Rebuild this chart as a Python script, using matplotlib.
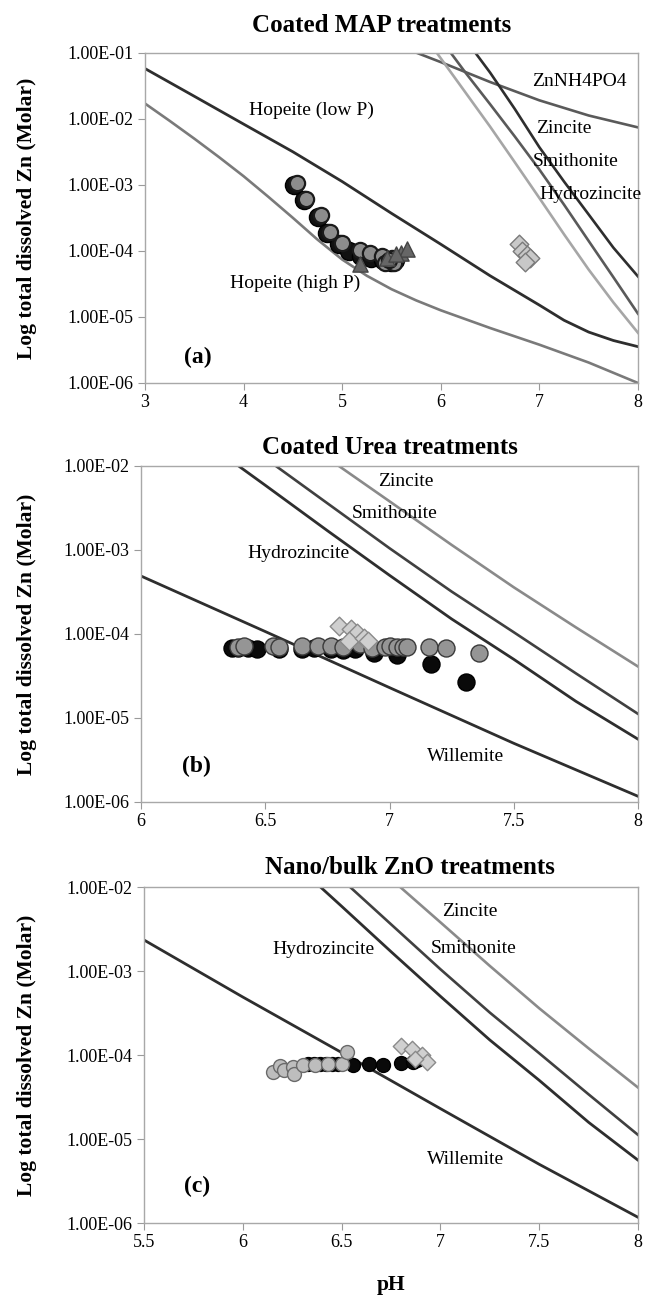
import matplotlib
matplotlib.use('Agg')
import matplotlib.pyplot as plt

plt.rcParams['font.family'] = ['Liberation Serif', 'DejaVu Serif']

# ---------------- Panel (a): Coated MAP treatments ----------------
a_hopeite_low_ph = [3.0, 3.5, 4.0, 4.5, 5.0, 5.5, 6.0, 6.5, 7.0, 7.25, 7.5, 7.75, 8.0]
a_hopeite_low_zn = [5.75e-2, 2.19e-2, 8.3e-3, 3.16e-3, 1.12e-3, 3.7e-4, 1.26e-4, 4.2e-5, 1.51e-5, 8.9e-6, 5.9e-6, 4.4e-6, 3.55e-6]
a_hopeite_high_ph = [3.0, 3.25, 3.5, 3.75, 4.0, 4.25, 4.5, 4.75, 5.0, 5.25, 5.5, 5.75, 6.0, 6.5, 7.0, 7.5, 8.0]
a_hopeite_high_zn = [1.70e-2, 9.3e-3, 5.0e-3, 2.63e-3, 1.35e-3, 6.6e-4, 3.16e-4, 1.48e-4, 7.4e-5, 4.2e-5,
                     2.63e-5, 1.78e-5, 1.26e-5, 6.8e-6, 3.8e-6, 2.04e-6, 1.0e-6]
a_znnh4po4_ph = [5.5, 6.0, 6.5, 7.0, 7.5, 8.0]
a_znnh4po4_zn = [1.4e-1, 7.2e-2, 3.6e-2, 1.9e-2, 1.12e-2, 7.4e-3]
a_zincite_ph = [6.3, 6.5, 6.75, 7.0, 7.25, 7.5, 7.75, 8.0]
a_zincite_zn = [1.26e-1, 5.0e-2, 1.41e-2, 3.7e-3, 1.12e-3, 3.55e-4, 1.12e-4, 4.1e-5]
a_smithonite_ph = [6.05, 6.25, 6.5, 6.75, 7.0, 7.25, 7.5, 7.75, 8.0]
a_smithonite_zn = [1.26e-1, 5.0e-2, 1.66e-2, 5.4e-3, 1.7e-3, 5.0e-4, 1.41e-4, 4.0e-5, 1.12e-5]
a_hydrozincite_ph = [5.9, 6.25, 6.5, 6.75, 7.0, 7.25, 7.5, 7.75, 8.0]
a_hydrozincite_zn = [1.32e-1, 2.5e-2, 7.6e-3, 2.2e-3, 6.3e-4, 1.78e-4, 5.2e-5, 1.66e-5, 5.75e-6]

a_black_ph = [4.51, 4.61, 4.75, 4.85, 4.97, 5.07, 5.19, 5.29, 5.41, 5.49, 5.54]
a_black_zn = [1.0e-3, 5.9e-4, 3.3e-4, 1.88e-4, 1.25e-4, 9.8e-5, 8.4e-5, 7.9e-5, 7.2e-5, 6.8e-5, 7.3e-5]
a_gray_ph = [4.54, 4.63, 4.78, 4.88, 5.0, 5.18, 5.28, 5.4, 5.5, 5.43, 5.53, 5.47]
a_gray_zn = [1.07e-3, 6.0e-4, 3.5e-4, 1.95e-4, 1.32e-4, 1.02e-4, 9.3e-5, 8.5e-5, 7.8e-5, 6.5e-5, 6.5e-5, 7.2e-5]
a_tri_ph = [5.18, 5.45, 5.6, 5.66, 5.55]
a_tri_zn = [6.3e-5, 7.9e-5, 9.3e-5, 1.05e-4, 8.9e-5]
a_dia_ph = [6.79, 6.82, 6.87, 6.9, 6.85]
a_dia_zn = [1.26e-4, 1.0e-4, 8.7e-5, 7.9e-5, 6.8e-5]

# ---------------- Panels (b), (c): mineral lines ----------------
willemite_ph = [5.5, 6.0, 6.5, 7.0, 7.5, 8.0]
willemite_zn = [2.34e-3, 4.9e-4, 1.07e-4, 2.3e-5, 5.0e-6, 1.17e-6]
hydrozincite_ph = [6.3, 6.5, 6.75, 7.0, 7.25, 7.5, 7.75, 8.0]
hydrozincite_zn = [1.58e-2, 5.9e-3, 1.7e-3, 5.0e-4, 1.51e-4, 5.0e-5, 1.58e-5, 5.6e-6]
smithonite_ph = [6.45, 6.75, 7.0, 7.25, 7.5, 7.75, 8.0]
smithonite_zn = [1.58e-2, 3.6e-3, 1.05e-3, 3.2e-4, 1.05e-4, 3.4e-5, 1.12e-5]
zincite_ph = [6.7, 7.0, 7.25, 7.5, 7.75, 8.0]
zincite_zn = [1.58e-2, 3.8e-3, 1.15e-3, 3.6e-4, 1.2e-4, 4.1e-5]

# Panel (b) data
b_black_ph = [6.368, 6.39, 6.43, 6.465, 6.556, 6.647, 6.697, 6.763, 6.813, 6.863, 6.938, 7.032, 7.167, 7.308]
b_black_zn = [6.8e-5, 6.8e-5, 6.8e-5, 6.6e-5, 6.6e-5, 6.6e-5, 6.8e-5, 6.6e-5, 6.4e-5, 6.6e-5, 5.9e-5, 5.6e-5, 4.4e-5, 2.7e-5]
b_gray_ph = [6.39, 6.415, 6.53, 6.556, 6.647, 6.714, 6.763, 6.813, 6.88, 6.93, 6.98, 7.004, 7.029, 7.054, 7.07, 7.16, 7.228, 7.36]
b_gray_zn = [7.0e-5, 7.2e-5, 7.2e-5, 7.0e-5, 7.2e-5, 7.1e-5, 7.1e-5, 7.0e-5, 7.6e-5, 6.8e-5, 7.0e-5, 7.1e-5, 7.0e-5, 7.0e-5, 7.0e-5, 7.0e-5, 6.8e-5, 6.0e-5]
b_dia_ph = [6.797, 6.846, 6.87, 6.838, 6.896, 6.913]
b_dia_zn = [1.24e-4, 1.14e-4, 1.02e-4, 8.3e-5, 8.9e-5, 8.3e-5]

# Panel (c) data
c_black_ph = [6.33, 6.36, 6.39, 6.42, 6.45, 6.48, 6.56, 6.64, 6.71, 6.8, 6.86, 6.88]
c_black_zn = [7.9e-5, 7.8e-5, 7.8e-5, 7.8e-5, 7.8e-5, 7.8e-5, 7.6e-5, 7.8e-5, 7.6e-5, 8.1e-5, 8.3e-5, 8.8e-5]
c_gray_ph = [6.154, 6.19, 6.21, 6.256, 6.26, 6.306, 6.365, 6.43, 6.5, 6.526]
c_gray_zn = [6.3e-5, 7.4e-5, 6.6e-5, 7.2e-5, 6.0e-5, 7.6e-5, 7.6e-5, 7.8e-5, 7.9e-5, 1.08e-4]
c_dia_ph = [6.80, 6.855, 6.905, 6.93, 6.87]
c_dia_zn = [1.29e-4, 1.17e-4, 1.0e-4, 8.3e-5, 9.0e-5]

y_ticks_a = [1e-6, 1e-5, 1e-4, 1e-3, 1e-2, 1e-1]
y_labels_a = ['1.00E-06', '1.00E-05', '1.00E-04', '1.00E-03', '1.00E-02', '1.00E-01']
y_ticks_bc = [1e-6, 1e-5, 1e-4, 1e-3, 1e-2]
y_labels_bc = ['1.00E-06', '1.00E-05', '1.00E-04', '1.00E-03', '1.00E-02']
x_ticks_a = [3, 4, 5, 6, 7, 8]
x_ticks_b = [6, 6.5, 7, 7.5, 8]
x_ticks_c = [5.5, 6, 6.5, 7, 7.5, 8]

W, H = 647, 1296
fig = plt.figure(figsize=(W / 100, H / 100), dpi=100)

LBL = 14
TICK = 13

def make_ax(top_px, bot_px, left_px=145, right_px=638):
    return fig.add_axes([left_px / W, 1 - bot_px / H, (right_px - left_px) / W, (bot_px - top_px) / H])

def style(ax, xlim, ylim, xt, yt, yl):
    ax.set_yscale('log')
    ax.set_xlim(*xlim)
    ax.set_ylim(*ylim)
    ax.set_xticks(xt)
    ax.set_xticklabels([('%g' % v) for v in xt], fontsize=TICK)
    ax.set_yticks(yt)
    ax.set_yticklabels(yl, fontsize=TICK)
    ax.minorticks_off()
    ax.tick_params(direction='out', length=5, color='#9a9a9a', pad=3)
    for s in ax.spines.values():
        s.set_color('#a8a8a8')
        s.set_linewidth(1.0)

DARK = '#2e2e2e'
MED = '#5a5a5a'
LIGHT = '#a6a6a6'

def ylabel(y_px):
    fig.text(27 / W, 1 - y_px / H, 'Log total dissolved Zn (Molar)', rotation=90,
             ha='center', va='center', fontsize=15.5, fontweight='bold')

# ---- (a)
ax = make_ax(52.7, 383)
ax.plot(a_hopeite_low_ph, a_hopeite_low_zn, color=DARK, lw=2.0)
ax.plot(a_hopeite_high_ph, a_hopeite_high_zn, color='#7a7a7a', lw=1.9)
ax.plot(a_znnh4po4_ph, a_znnh4po4_zn, color=MED, lw=1.9)
ax.plot(a_zincite_ph, a_zincite_zn, color=DARK, lw=1.9)
ax.plot(a_smithonite_ph, a_smithonite_zn, color=MED, lw=1.9)
ax.plot(a_hydrozincite_ph, a_hydrozincite_zn, color=LIGHT, lw=1.9)
ax.scatter(a_black_ph, a_black_zn, s=170, c='#111111', edgecolors='#000000', lw=1, zorder=3)
ax.scatter(a_gray_ph, a_gray_zn, s=120, c='#8c8c8c', edgecolors='#1a1a1a', lw=1.6, zorder=4)
ax.scatter(a_tri_ph, a_tri_zn, s=120, marker='^', c='#666666', edgecolors='#444444', lw=1, zorder=4)
ax.scatter(a_dia_ph, a_dia_zn, s=90, marker='D', c='#c8c8c8', edgecolors='#7a7a7a', lw=1, zorder=4)
ax.text(4.05, 10**-1.87, 'Hopeite (low P)', fontsize=LBL, va='center')
ax.text(3.86, 10**-4.49, 'Hopeite (high P)', fontsize=LBL, va='center')
ax.text(6.93, 10**-1.44, 'ZnNH4PO4', fontsize=LBL, va='center')
ax.text(6.97, 10**-2.14, 'Zincite', fontsize=LBL, va='center')
ax.text(6.93, 10**-2.65, 'Smithonite', fontsize=LBL, va='center')
ax.text(7.0, 10**-3.15, 'Hydrozincite', fontsize=LBL, va='center')
ax.text(3.4, 10**-5.62, '(a)', fontsize=17, fontweight='bold', va='center')
style(ax, (3, 8), (1e-6, 1e-1), x_ticks_a, y_ticks_a, y_labels_a)
fig.text(382 / W, 1 - 25 / H, 'Coated MAP treatments', ha='center', va='center', fontsize=18, fontweight='bold')
ylabel(218)

# ---- (b)
ax = make_ax(466, 802, 141, 638)
ax.plot(willemite_ph, willemite_zn, color=DARK, lw=2.0)
ax.plot(hydrozincite_ph, hydrozincite_zn, color=DARK, lw=2.0)
ax.plot(smithonite_ph, smithonite_zn, color='#404040', lw=1.9)
ax.plot(zincite_ph, zincite_zn, color='#8a8a8a', lw=1.9)
ax.scatter(b_black_ph, b_black_zn, s=150, c='#0a0a0a', edgecolors='#000000', lw=1, zorder=3)
ax.scatter(b_gray_ph, b_gray_zn, s=150, c='#959595', edgecolors='#3a3a3a', lw=1, zorder=4)
ax.scatter(b_dia_ph, b_dia_zn, s=90, marker='D', c='#cfcfcf', edgecolors='#8a8a8a', lw=1, zorder=5)
ax.text(6.954, 10**-2.19, 'Zincite', fontsize=LBL, va='center')
ax.text(6.85, 10**-2.56, 'Smithonite', fontsize=LBL, va='center')
ax.text(6.43, 10**-3.04, 'Hydrozincite', fontsize=LBL, va='center')
ax.text(7.15, 10**-5.46, 'Willemite', fontsize=LBL, va='center')
ax.text(6.166, 10**-5.58, '(b)', fontsize=17, fontweight='bold', va='center')
style(ax, (6, 8), (1e-6, 1e-2), x_ticks_b, y_ticks_bc, y_labels_bc)
fig.text(390 / W, 1 - 448 / H, 'Coated Urea treatments', ha='center', va='center', fontsize=18, fontweight='bold')
ylabel(634)

# ---- (c)
ax = make_ax(887, 1223, 144, 638)
ax.plot(willemite_ph, willemite_zn, color=DARK, lw=2.0)
ax.plot(hydrozincite_ph, hydrozincite_zn, color=DARK, lw=2.0)
ax.plot(smithonite_ph, smithonite_zn, color='#404040', lw=1.9)
ax.plot(zincite_ph, zincite_zn, color='#8a8a8a', lw=1.9)
ax.scatter(c_black_ph, c_black_zn, s=100, c='#0a0a0a', edgecolors='#000000', lw=1, zorder=3)
ax.scatter(c_gray_ph, c_gray_zn, s=100, c='#bdbdbd', edgecolors='#6a6a6a', lw=1, zorder=4)
ax.scatter(c_dia_ph, c_dia_zn, s=70, marker='D', c='#d0d0d0', edgecolors='#8a8a8a', lw=1, zorder=5)
ax.text(7.01, 10**-2.29, 'Zincite', fontsize=LBL, va='center')
ax.text(6.95, 10**-2.73, 'Smithonite', fontsize=LBL, va='center')
ax.text(6.15, 10**-2.75, 'Hydrozincite', fontsize=LBL, va='center')
ax.text(6.93, 10**-5.25, 'Willemite', fontsize=LBL, va='center')
ax.text(5.70, 10**-5.56, '(c)', fontsize=17, fontweight='bold', va='center')
style(ax, (5.5, 8), (1e-6, 1e-2), x_ticks_c, y_ticks_bc, y_labels_bc)
fig.text(410 / W, 1 - 868 / H, 'Nano/bulk ZnO treatments', ha='center', va='center', fontsize=18, fontweight='bold')
ylabel(1055)
fig.text(391 / W, 1 - 1285 / H, 'pH', ha='center', va='center', fontsize=15.5, fontweight='bold')

fig.savefig('out.png', dpi=100, facecolor='white')
